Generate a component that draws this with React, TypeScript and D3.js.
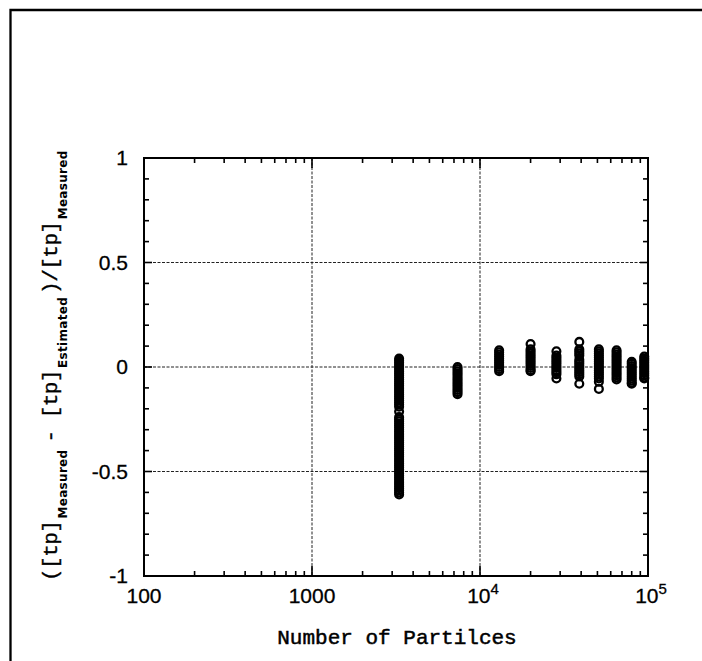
import React, { useEffect } from 'react';
import * as d3 from 'd3';

// Number of particles for each measurement group
const particleCounts = [3300, 7350, 13000, 20000, 28500, 39000, 51000, 65000, 80000, 95000];

// Relative error values read for each group
const errors3300 = [0.04, 0.03, 0.02, 0.01, 0.0, -0.01, -0.02, -0.03, -0.04, -0.05, -0.06, -0.07, -0.08, -0.09, -0.1, -0.11, -0.12, -0.13, -0.14, -0.15, -0.16, -0.17, -0.18, -0.19, -0.213, -0.24, -0.25, -0.26, -0.27, -0.28, -0.29, -0.3, -0.31, -0.32, -0.33, -0.34, -0.35, -0.36, -0.37, -0.38, -0.39, -0.4, -0.41, -0.42, -0.43, -0.44, -0.45, -0.46, -0.47, -0.48, -0.49, -0.5, -0.51, -0.52, -0.53, -0.54, -0.55, -0.56, -0.57, -0.58, -0.59, -0.6, -0.61];
const errors7350 = [0.0, -0.01, -0.02, -0.03, -0.04, -0.05, -0.06, -0.07, -0.08, -0.09, -0.1, -0.11, -0.12, -0.13];
const errors13000 = [0.08, 0.07, 0.06, 0.05, 0.04, 0.03, 0.02, 0.01, 0.0, -0.01, -0.02];
const errors20000 = [0.11, 0.085, 0.075, 0.065, 0.055, 0.045, 0.035, 0.025, 0.015, 0.005, -0.005, -0.015, -0.02];
const errors28500 = [0.075, 0.055, 0.045, 0.035, 0.025, 0.015, 0.005, -0.005, -0.015, -0.025, -0.035, -0.055];
const errors39000 = [0.12, 0.085, 0.075, 0.065, 0.055, 0.035, 0.025, 0.015, 0.005, -0.005, -0.015, -0.025, -0.035, -0.045, -0.08];
const errors51000 = [0.085, 0.075, 0.065, 0.055, 0.045, 0.035, 0.025, 0.015, 0.005, -0.005, -0.015, -0.025, -0.035, -0.045, -0.055, -0.07, -0.105];
const errors65000 = [0.08, 0.07, 0.06, 0.05, 0.04, 0.03, 0.02, 0.01, 0.0, -0.01, -0.02, -0.03, -0.04, -0.05, -0.06];
const errors80000 = [0.025, 0.015, 0.005, -0.005, -0.015, -0.025, -0.035, -0.045, -0.055, -0.065, -0.075, -0.08];
const errors95000 = [0.05, 0.04, 0.03, 0.02, 0.01, 0.0, -0.01, -0.02, -0.03, -0.04, -0.05, -0.055];

const errorGroups = [errors3300, errors7350, errors13000, errors20000, errors28500, errors39000, errors51000, errors65000, errors80000, errors95000];

// Axis ticks
const yMajorTicks = [-1, -0.5, 0, 0.5, 1];
const yTickLabels = ['-1', '-0.5', '0', '0.5', '1'];
const yGridValues = [-0.5, 0, 0.5];
const xMajorTicks = [100, 1000, 10000, 100000];
const xTickBases = ['100', '1000', '10', '10'];
const xTickExponents = ['', '', '4', '5'];
const xGridValues = [1000, 10000];

const xTitle = 'Number of Partilces';

export default function App() {
  const W = 702;
  const H = 661;
  const left = 144, right = 648, top = 158, bottom = 576;

  useEffect(() => {
    document.documentElement.style.overflow = 'hidden';
    document.body.style.margin = '0';
    document.body.style.overflow = 'hidden';
  }, []);

  const x = d3.scaleLog().domain([100, 100000]).range([left, right]);
  const y = d3.scaleLinear().domain([-1, 1]).range([bottom, top]);

  const xTicksAll = x.ticks();
  const yTicksAll = y.ticks(20);

  const isDecade = (v: number) => Math.abs(Math.log10(v) - Math.round(Math.log10(v))) < 1e-9;
  const isYMajor = (v: number) => Math.abs(v * 2 - Math.round(v * 2)) < 1e-9;

  const points: { px: number; e: number; key: string }[] = [];
  errorGroups.forEach((arr, gi) => {
    arr.forEach((e, i) => points.push({ px: particleCounts[gi], e, key: `${gi}-${i}` }));
  });

  const labelFont = "'Liberation Sans', Arial, sans-serif";
  const monoFont = "'Liberation Mono', 'DejaVu Sans Mono', monospace";
  const subFont = "'DejaVu Sans', sans-serif";

  return (
    <svg width={W} height={H} style={{ position: 'absolute', left: 0, top: 0, display: 'block' }}>
      <rect x={0} y={0} width={W} height={H} fill="#fff" />
      {/* outer frame (left and top edges) */}
      <path d={`M10.5,${H} L10.5,10 L${W},10`} fill="none" stroke="#000" strokeWidth={2.3} />

      {/* grid */}
      {yGridValues.map(v => (
        <line key={'gy' + v} x1={left} x2={right} y1={y(v)} y2={y(v)} stroke="#222" strokeWidth={1} strokeDasharray="3,1.5" />
      ))}
      {xGridValues.map(v => (
        <line key={'gx' + v} x1={x(v)} x2={x(v)} y1={top} y2={bottom} stroke="#222" strokeWidth={1} strokeDasharray="3,1.5" />
      ))}

      {/* y ticks, left and right, pointing inward */}
      {yTicksAll.map(v => {
        const len = isYMajor(v) ? 8 : 5;
        return (
          <g key={'yt' + v}>
            <line x1={left} x2={left + len} y1={y(v)} y2={y(v)} stroke="#000" strokeWidth={1.6} />
            <line x1={right} x2={right - len} y1={y(v)} y2={y(v)} stroke="#000" strokeWidth={1.6} />
          </g>
        );
      })}
      {/* x ticks, bottom and top, pointing inward */}
      {xTicksAll.map(v => {
        const len = isDecade(v) ? 10 : 5;
        return (
          <g key={'xt' + v}>
            <line x1={x(v)} x2={x(v)} y1={bottom} y2={bottom - len} stroke="#000" strokeWidth={1.6} />
            <line x1={x(v)} x2={x(v)} y1={top} y2={top + len} stroke="#000" strokeWidth={1.6} />
          </g>
        );
      })}

      {/* plot border */}
      <rect x={left} y={top} width={right - left} height={bottom - top} fill="none" stroke="#000" strokeWidth={2} />

      {/* data points */}
      {points.map(p => (
        <circle key={p.key} cx={x(p.px)} cy={y(p.e)} r={3.9} fill="none" stroke="#000" strokeWidth={2.3} />
      ))}

      {/* y tick labels */}
      {yMajorTicks.map((v, i) => (
        <text key={'yl' + v} x={left - 16} y={y(v) + 7} textAnchor="end" fontFamily={labelFont} fontSize={21} fill="#000" stroke="#000" strokeWidth={0.3}>
          {yTickLabels[i]}
        </text>
      ))}

      {/* x tick labels */}
      {xMajorTicks.map((v, i) => (
        <text key={'xl' + v} x={x(v) + (xTickExponents[i] ? 3 : 0)} y={603} textAnchor="middle" fontFamily={labelFont} fontSize={21} fill="#000" stroke="#000" strokeWidth={0.3}>
          {xTickBases[i]}
          {xTickExponents[i] ? (
            <tspan fontSize={15} dy={-9}>{xTickExponents[i]}</tspan>
          ) : null}
        </text>
      ))}

      {/* x title */}
      <text x={397} y={644} textAnchor="middle" fontFamily={monoFont} fontSize={21} fill="#000" stroke="#000" strokeWidth={0.5}>
        {xTitle}
      </text>

      {/* y title */}
      <g transform="translate(57, 581) rotate(-90)">
        <text x={0} y={0} fontFamily={monoFont} fontSize={21} fill="#000" stroke="#000" strokeWidth={0.4} letterSpacing={-0.5}>
          <tspan>([tp]</tspan>
          <tspan fontFamily={subFont} fontWeight="bold" fontSize={12} dy={10} dx={2} letterSpacing={0.3} strokeWidth={0}>Measured</tspan>
          <tspan dy={-10} dx={7}>- [tp]</tspan>
          <tspan fontFamily={subFont} fontWeight="bold" fontSize={12} dy={10} dx={2} letterSpacing={0.3} strokeWidth={0}>Estimated</tspan>
          <tspan dy={-10} dx={3}>)/[tp]</tspan>
          <tspan fontFamily={subFont} fontWeight="bold" fontSize={12} dy={10} dx={2} letterSpacing={0.3} strokeWidth={0}>Measured</tspan>
        </text>
      </g>
    </svg>
  );
}
